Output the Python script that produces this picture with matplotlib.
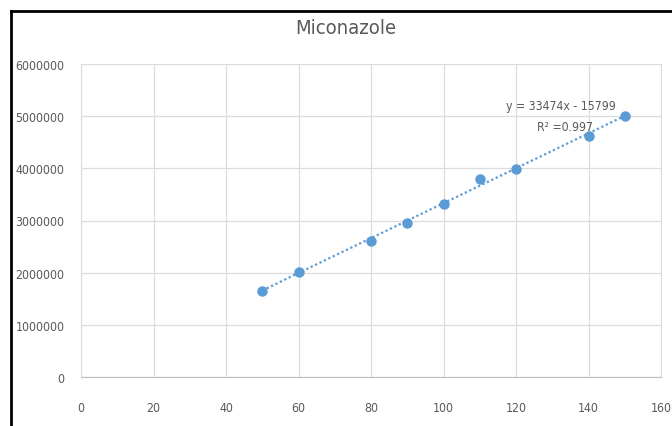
import matplotlib.pyplot as plt
import numpy as np
from matplotlib.lines import Line2D

# concentration vs peak area
conc = [50, 60, 80, 90, 100, 110, 120, 140, 150]
area = [1654000, 2007000, 2600000, 2946000, 3320000, 3795000, 3987000, 4613000, 5010000]

slope = 33474
intercept = -15799
r2 = 0.997

plt.rcParams['font.family'] = ['DejaVu Sans']
plt.rcParams['font.stretch'] = 'condensed'
cinza = '#595959'
azul = '#5b9bd5'

fig = plt.figure(figsize=(6.72, 4.27), dpi=100)
ax = fig.add_axes([81/672, 1-378/427, 580/672, 313/427])

xs = np.array([min(conc), max(conc)])
ax.plot(xs, slope*xs + intercept, linestyle=(0, (1, 1.2)), color=azul, lw=1.6, zorder=2)
ax.plot(conc, area, 'o', color=azul, markersize=6.5, zorder=3)

ax.set_xlim(0, 160)
ax.set_ylim(0, 6000000)
ax.set_xticks(range(0, 161, 20))
ax.set_yticks(range(0, 6000001, 1000000))
ax.ticklabel_format(style='plain')
ax.grid(True, color='#dcdcdc', lw=0.9)
ax.set_axisbelow(True)
for s in ax.spines.values():
    s.set_color('#dcdcdc')
ax.spines['bottom'].set_color('#bfbfbf')
ax.tick_params(length=0, colors=cinza, labelsize=8.8)
ax.tick_params(axis='y', pad=12)
ax.tick_params(axis='x', pad=17)

fig.text(346/672, 1-28/427, 'Miconazole', ha='center', va='center', fontsize=14.5, color=cinza)
ax.text(132.5, 5210000, 'y = 33474x - 15799', ha='center', va='center', fontsize=8.8, color=cinza)
ax.text(133.5, 4800000, 'R² =%.3f' % r2, ha='center', va='center', fontsize=8.8, color=cinza)

# black frame (cropped box)
fig.add_artist(Line2D([11/672, 1], [1-12/427, 1-12/427], color='black', lw=2, transform=fig.transFigure))
fig.add_artist(Line2D([11/672, 11/672], [0, 1-12/427], color='black', lw=2, transform=fig.transFigure))

fig.savefig('out.png', dpi=100)
